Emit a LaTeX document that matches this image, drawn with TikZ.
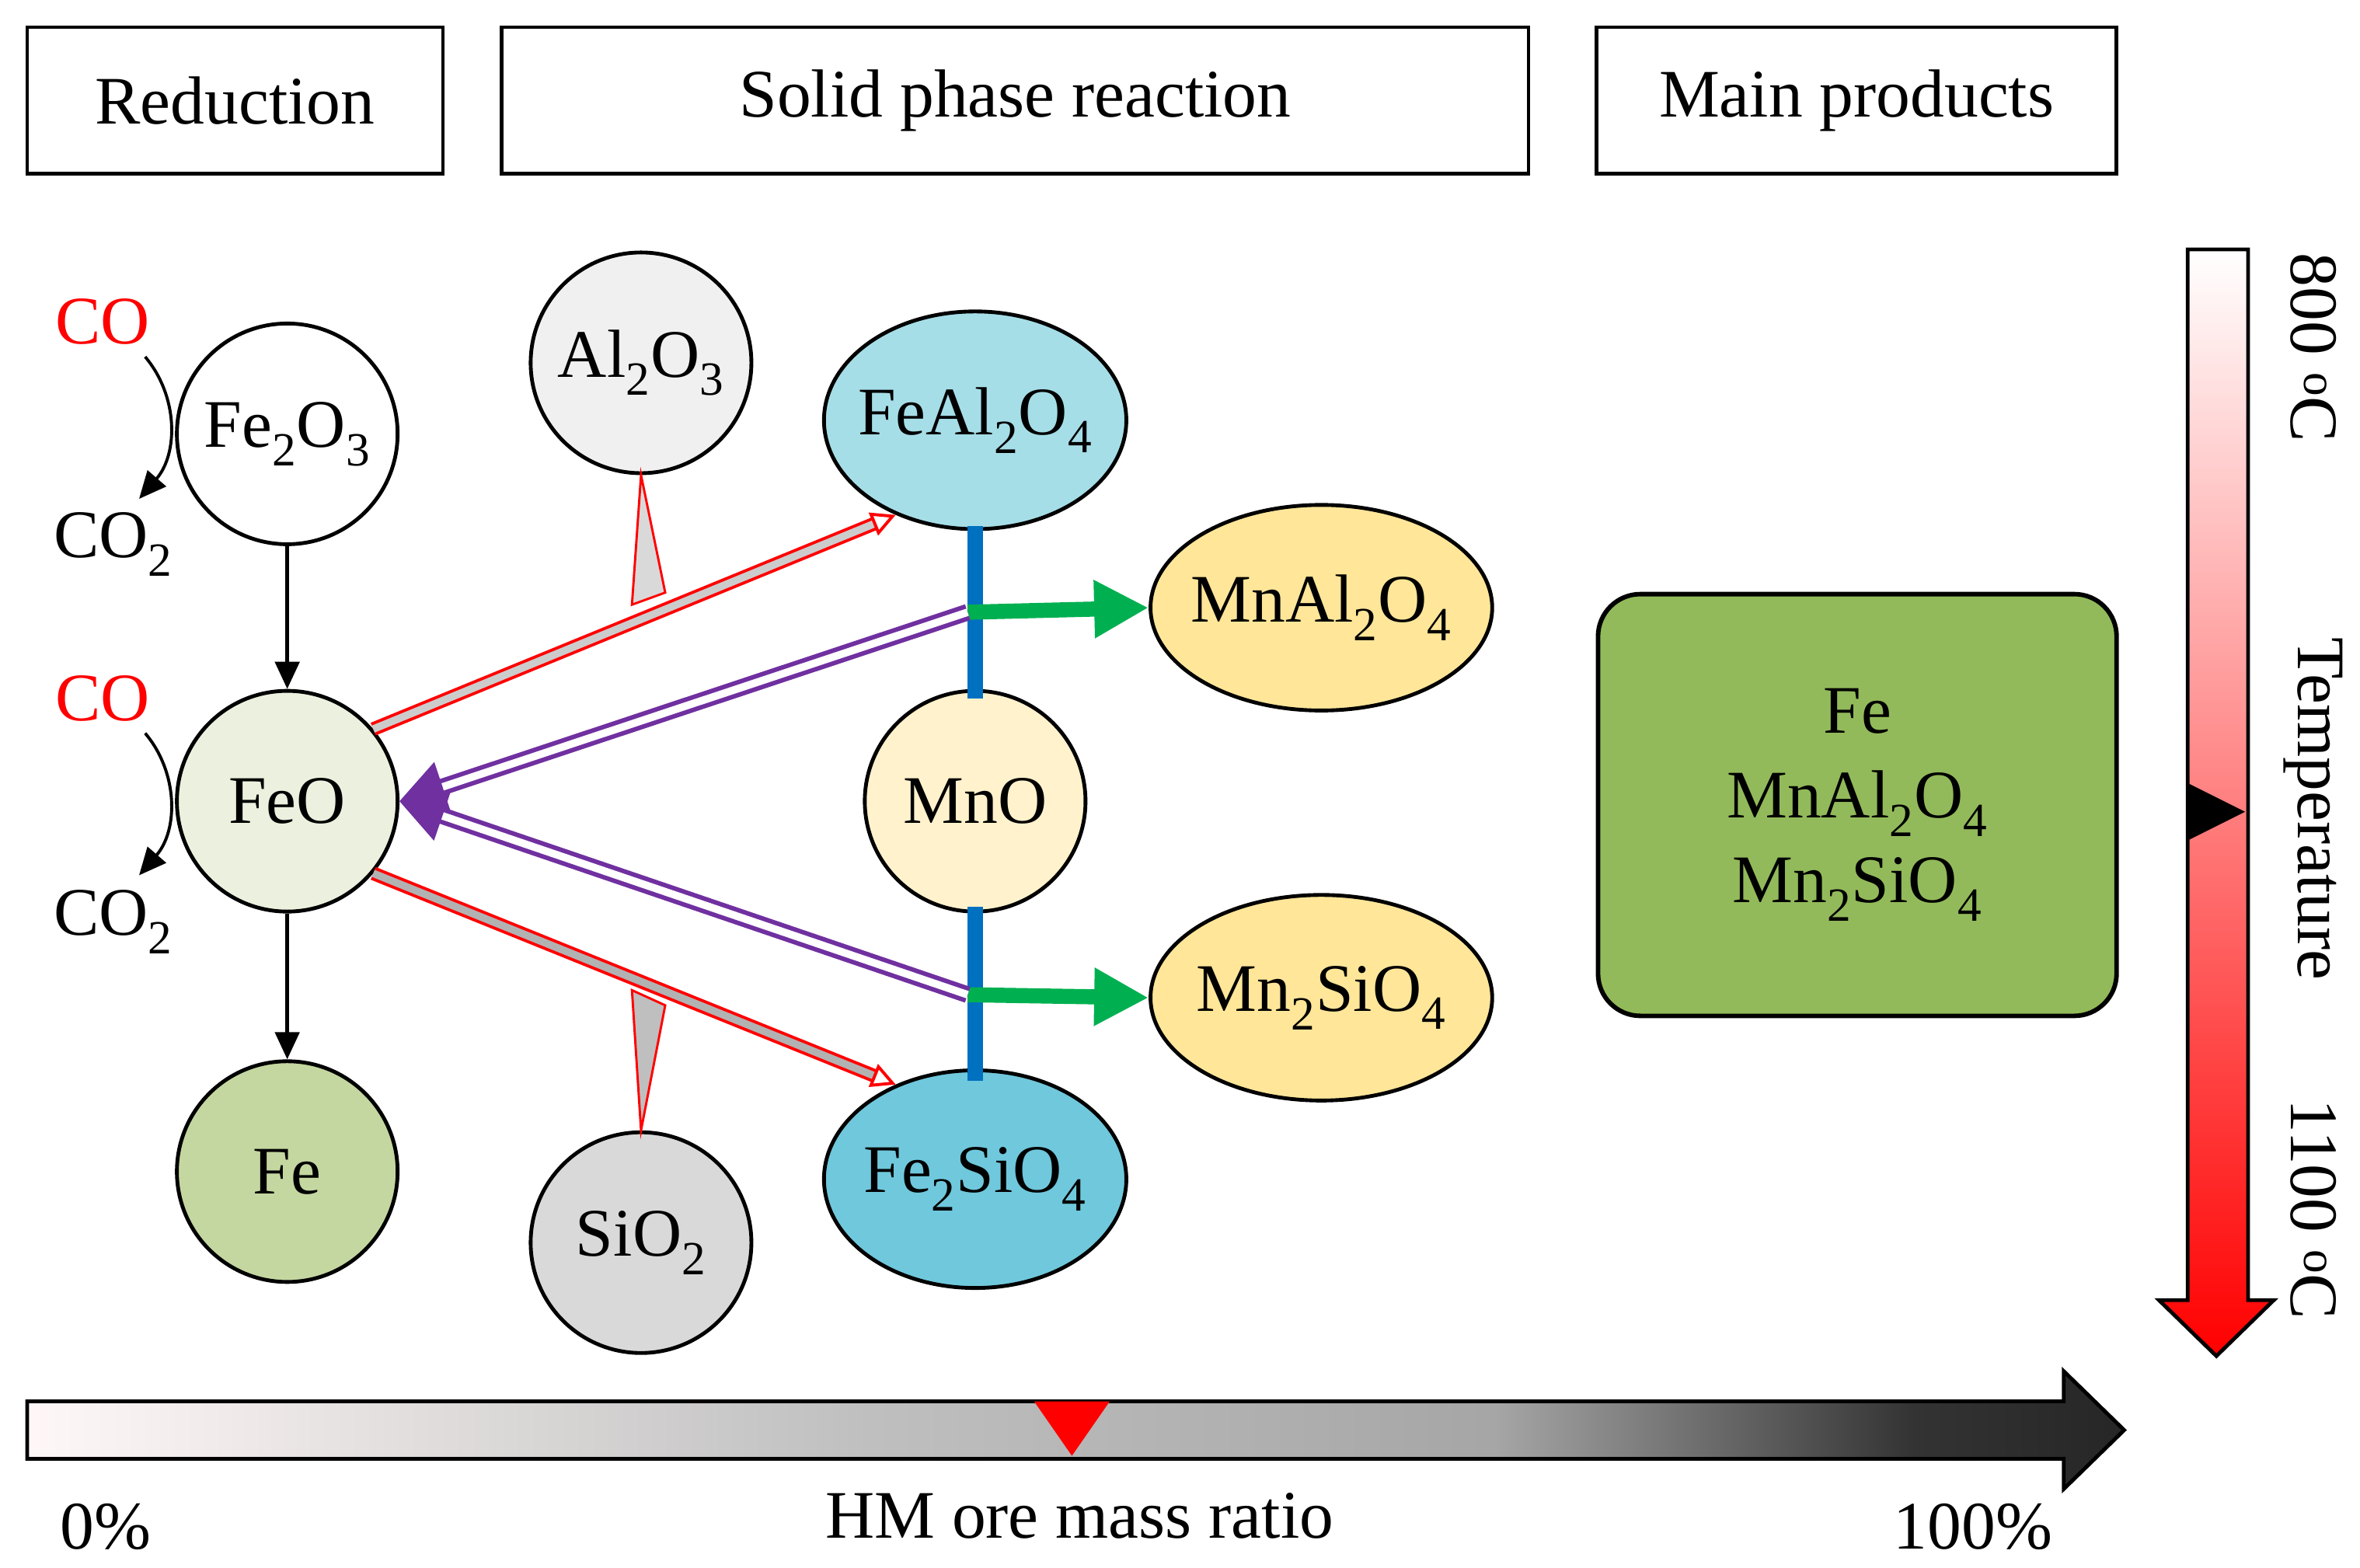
\documentclass[tikz,border=0pt]{standalone}
\usepackage{fontspec}
\setmainfont{Liberation Serif}
\usetikzlibrary{arrows.meta,shapes.geometric,calc}
\newcommand{\sub}[1]{\textsubscript{#1}}
\definecolor{cblue}{RGB}{0,112,192}
\definecolor{cgreen}{RGB}{0,176,80}
\definecolor{cpurp}{RGB}{112,48,160}
\pgfdeclarehorizontalshading{oreshade}{100bp}{color(0bp)=(white!97!red); color(25bp)=(white!97!red); color(45bp)=(black!25); color(60bp)=(black!35); color(70bp)=(black!80); color(75bp)=(black!85); color(100bp)=(black!85)}
\begin{document}
\begin{tikzpicture}[x=1pt,y=-1pt,
  every node/.style={font=\fontsize{45}{52}\selectfont},
  hdr/.style={draw,line width=2.5pt,inner sep=0},
  circ/.style={draw,line width=2.5pt,circle,minimum size=146pt,inner sep=0},
  ell/.style={draw,line width=2.5pt,ellipse,inner ysep=0pt,inner xsep=-16pt},
  blk/.style={line width=2.5pt,-{Triangle[length=18pt,width=16pt]}},
  blue/.style={cblue,line width=10pt},
  garr/.style={cgreen,line width=10pt,-{Triangle[length=36pt,width=36pt]}},
  parr/.style={cpurp,line width=3pt,double=white,double distance=5pt,-{Triangle[length=30pt,width=34pt]}},
  rarr/.style={red,line width=2pt,double=gray!40,double distance=5pt,-{Triangle[open,length=16pt,width=16pt]}},
  ]
\useasboundingbox (0,0) rectangle (1561,1037);
\node[hdr,minimum width=275pt,minimum height=97pt] (h1) at (155.5,66.5) {Reduction};
\node[hdr,minimum width=679pt,minimum height=97pt] (h2) at (671.5,66.5) {Solid phase reaction};
\node[hdr,minimum width=344pt,minimum height=97pt] (h3) at (1228,66.5) {Main products};

\node[circ,fill=white] (fe2o3) at (190,287) {Fe\sub{2}O\sub{3}};
\node[circ,fill={rgb,255:red,235;green,241;blue,222}] (feo) at (190,530) {FeO};
\node[circ,fill={rgb,255:red,196;green,215;blue,160}] (fe) at (190,775) {Fe};
\node[circ,fill={rgb,255:red,240;green,240;blue,240}] (al) at (424,240) {Al\sub{2}O\sub{3}};
\node[circ,fill={rgb,255:red,217;green,217;blue,217}] (si) at (424,822) {SiO\sub{2}};
\node[circ,fill={rgb,255:red,255;green,242;blue,204}] (mno) at (645,530) {MnO};
\node[ell,minimum width=200pt,minimum height=144pt,fill={rgb,255:red,166;green,222;blue,232}] (feal) at (645,278) {FeAl\sub{2}O\sub{4}};
\node[ell,minimum width=200pt,minimum height=144pt,fill={rgb,255:red,112;green,200;blue,220}] (fesi) at (645,780) {Fe\sub{2}SiO\sub{4}};
\node[ell,minimum width=226pt,minimum height=136pt,fill={rgb,255:red,255;green,230;blue,153}] (mnal) at (874,402) {MnAl\sub{2}O\sub{4}};
\node[ell,minimum width=226pt,minimum height=136pt,fill={rgb,255:red,255;green,230;blue,153}] (mnsi) at (874,660) {Mn\sub{2}SiO\sub{4}};

\node[text=red] (co1) at (68,213) {CO};
\node (co21) at (75,360) {CO\sub{2}};
\node[text=red] (co2) at (68,462) {CO};
\node (co22) at (75,610) {CO\sub{2}};
\draw[blk,line width=2pt] (96,236) .. controls (118,262) and (118,300) .. (92,330);
\draw[blk,line width=2pt] (96,485) .. controls (118,511) and (118,549) .. (92,579);

\draw[blk] (fe2o3) -- (feo);
\draw[blk] (feo) -- (fe);

\coordinate (j1) at (640,405);
\coordinate (j2) at (640,658);
\draw[blue] (645,348) -- (645,462);
\draw[blue] (645,600) -- (645,715);
\draw[garr] (j1) -- (mnal.west);
\draw[garr] (j2) -- (mnsi.west);
\draw[parr] (j1) -- (feo.east);
\draw[parr] (j2) -- (feo.east);

\draw[red,line width=1.5pt,fill=gray!30] (al.south) -- (418,400) -- (440,392) -- cycle;
\draw[red,line width=1.5pt,fill=gray!50] (si.north) -- (418,655) -- (440,665) -- cycle;
\draw[rarr] (feo.40) -- (feal.230);
\draw[rarr,double=gray!60] (feo.-40) -- (fesi.130);

\node[draw,line width=3pt,rounded corners=28pt,fill={rgb,255:red,146;green,186;blue,90},minimum width=343pt,minimum height=279pt,align=center] (prod) at (1228.5,532.5) {Fe\\[4pt]MnAl\sub{2}O\sub{4}\\[4pt]Mn\sub{2}SiO\sub{4}};

% temperature bar
\shade[top color=white,bottom color=red,draw=black,line width=2.5pt] (1447,165) -- (1487,165) -- (1487,860) -- (1504,860) -- (1466,897) -- (1428,860) -- (1447,860) -- cycle;
\fill[black] (1447,518) -- (1485,537) -- (1447,556) -- cycle;
\node[rotate=-90] (t1) at (1530,230) {800 \textsuperscript{o}C};
\node[rotate=-90] (t2) at (1530,535) {Temperature};
\node[rotate=-90] (t3) at (1530,800) {1100 \textsuperscript{o}C};

% bottom bar
\shade[shading=oreshade,draw=black,line width=2.5pt] (18,927) -- (1365,927) -- (1365,907) -- (1405,946) -- (1365,985) -- (1365,965) -- (18,965) -- cycle;
\fill[red] (684,927) -- (734,927) -- (709,963) -- cycle;
\node (p0) at (70,1010) {0\%};
\node (hm) at (714,1003) {HM ore mass ratio};
\node (p1) at (1305,1010) {100\%};
\end{tikzpicture}
\end{document}
